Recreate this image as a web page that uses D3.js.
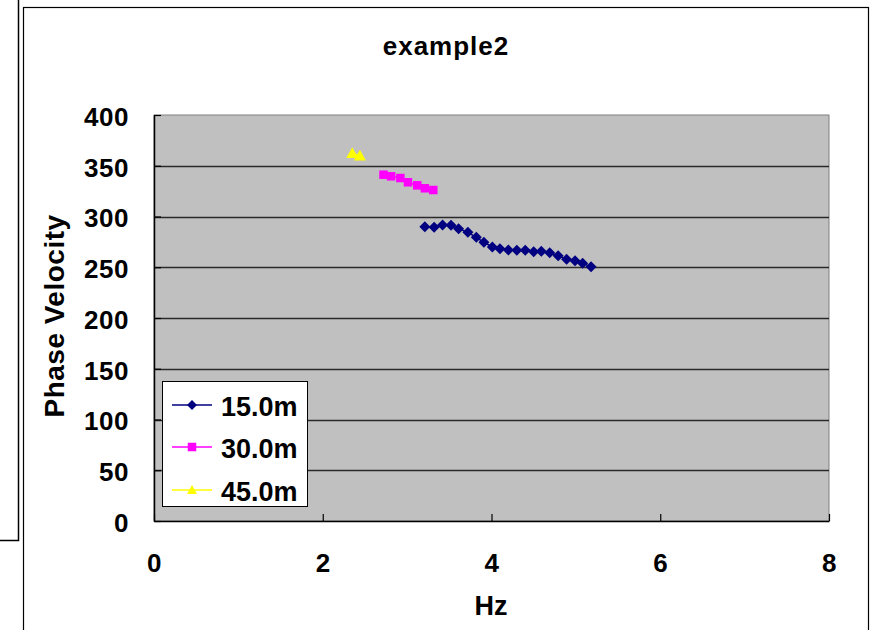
<!DOCTYPE html>
<html><head><meta charset="utf-8">
<script src="https://cdn.jsdelivr.net/npm/d3@7/dist/d3.min.js"></script>
<style>html,body{margin:0;padding:0;background:#fff;}svg{display:block;font-family:"Liberation Sans",Arial,sans-serif;font-weight:bold;}</style>
</head><body>
<script>
const title = "example2";
const xLabel = "Hz";
const yLabel = "Phase Velocity";
const xTicks = [0, 2, 4, 6, 8];
const yTicks = [0, 50, 100, 150, 200, 250, 300, 350, 400];
const seriesNames = ["15.0m", "30.0m", "45.0m"];
const seriesColors = ["#000080", "#FF00FF", "#FFFF00"];
const seriesShapes = ["diamond", "square", "triangle"];
const hz15 = [3.21, 3.32, 3.42, 3.52, 3.61, 3.72, 3.82, 3.91, 4.01, 4.10, 4.20, 4.30, 4.40, 4.50, 4.59, 4.69, 4.79, 4.89, 4.99, 5.08, 5.18];
const vel15 = [290.0, 289.4, 291.6, 291.3, 288.0, 284.4, 279.5, 274.6, 270.0, 268.3, 267.0, 266.7, 266.7, 265.3, 265.7, 264.3, 261.4, 257.8, 256.5, 253.9, 250.4];
const hz30 = [2.72, 2.81, 2.92, 3.01, 3.12, 3.21, 3.31];
const vel30 = [341.2, 339.6, 337.9, 333.7, 330.7, 327.8, 326.1];
const hz45 = [2.35, 2.44];
const vel45 = [362.3, 359.9];

const W = 879, H = 630;
const svg = d3.select("body").append("svg").attr("width", W).attr("height", H);

// remnants of neighbouring frame and chart frame
svg.append("path").attr("d", "M18.5,0V540.5H0").attr("fill", "none").attr("stroke", "#000").attr("stroke-width", 1.5);
svg.append("rect").attr("x", 23.5).attr("y", 7.5).attr("width", 845).attr("height", 700)
  .attr("fill", "#fff").attr("stroke", "#000").attr("stroke-width", 1.2);

const L = 154, R = 829, T = 115, B = 521;
const x = d3.scaleLinear().domain([0, 8]).range([L, R]);
const y = d3.scaleLinear().domain([0, 400]).range([B, T]);

svg.append("rect").attr("x", L).attr("y", T).attr("width", R - L).attr("height", B - T)
  .attr("fill", "#C0C0C0").attr("stroke", "#808080").attr("stroke-width", 1);

// gridlines
svg.append("g").selectAll("line").data(yTicks.filter(v => v > 0 && v < 400)).join("line")
  .attr("x1", L).attr("x2", R).attr("y1", d => Math.round(y(d)) + 0.5).attr("y2", d => Math.round(y(d)) + 0.5)
  .attr("stroke", "#2a2a2a").attr("stroke-width", 1.5);

const fs = 26;
const xAxis = svg.append("g").attr("transform", `translate(0,${B})`)
  .call(d3.axisBottom(x).tickValues(xTicks).tickFormat(d3.format("d")).tickSizeInner(-7).tickSizeOuter(0).tickPadding(32));
const yAxis = svg.append("g").attr("transform", `translate(${L},0)`)
  .call(d3.axisLeft(y).tickValues(yTicks).tickFormat(d3.format("d")).tickSizeInner(-7).tickSizeOuter(0).tickPadding(25));
[xAxis, yAxis].forEach(g => {
  g.attr("font-family", null).attr("font-size", null);
  g.select(".domain").attr("stroke", "#000").attr("stroke-width", 1.5);
  g.selectAll(".tick line").attr("stroke", "#000").attr("stroke-width", 1.2);
  g.selectAll(".tick text").attr("fill", "#000").style("font-size", fs + "px").style("font-weight", "bold").style("letter-spacing", "0.5px");
});
xAxis.selectAll(".tick text").attr("dy", null).attr("y", 51);
yAxis.selectAll(".tick text").attr("dy", "0.4em");

// titles
svg.append("text").attr("x", 446).attr("y", 55).attr("text-anchor", "middle").style("font-size", "26px").style("letter-spacing", "1px").text(title);
svg.append("text").attr("x", 491).attr("y", 615).attr("text-anchor", "middle").style("font-size", "27px").text(xLabel);
svg.append("text").attr("transform", "translate(64,316) rotate(-90)").attr("text-anchor", "middle").style("font-size", "28px").style("letter-spacing", "0.5px").text(yLabel);

function marker(sel, shape, color, s) {
  if (shape === "diamond") sel.append("path").attr("d", `M0,${-s}L${s},0L0,${s}L${-s},0Z`).attr("fill", color);
  else if (shape === "square") sel.append("rect").attr("x", -s * 0.85).attr("y", -s * 0.85).attr("width", s * 1.7).attr("height", s * 1.7).attr("fill", color);
  else sel.append("path").attr("d", `M0,${-s}L${s},${s * 0.8}L${-s},${s * 0.8}Z`).attr("fill", color);
}

const series = [
  { name: seriesNames[0], hz: hz15, v: vel15 },
  { name: seriesNames[1], hz: hz30, v: vel30 },
  { name: seriesNames[2], hz: hz45, v: vel45 }
];
const markerSize = [5.5, 5, 6];
const line = d3.line().x(d => x(d[0])).y(d => y(d[1]));
series.forEach((s, i) => {
  const pts = s.hz.map((h, j) => [h, s.v[j]]);
  svg.append("path").attr("d", line(pts)).attr("fill", "none").attr("stroke", seriesColors[i]).attr("stroke-width", 1.5);
  pts.forEach(p => {
    const g = svg.append("g").attr("transform", `translate(${x(p[0])},${y(p[1])})`);
    marker(g, seriesShapes[i], seriesColors[i], markerSize[i]);
  });
});

// legend
const lg = svg.append("g");
lg.append("rect").attr("x", 162.5).attr("y", 381.5).attr("width", 145).attr("height", 125)
  .attr("fill", "#fff").attr("stroke", "#000").attr("stroke-width", 1);
const rowY = [405, 447, 490];
series.forEach((s, i) => {
  lg.append("line").attr("x1", 172).attr("x2", 212).attr("y1", rowY[i]).attr("y2", rowY[i])
    .attr("stroke", seriesColors[i]).attr("stroke-width", 1.5);
  const g = lg.append("g").attr("transform", `translate(192,${rowY[i]})`);
  marker(g, seriesShapes[i], seriesColors[i], 5);
  lg.append("text").attr("x", 221).attr("y", rowY[i] + 11).style("font-size", "27px").text(s.name);
});
</script>
</body></html>
